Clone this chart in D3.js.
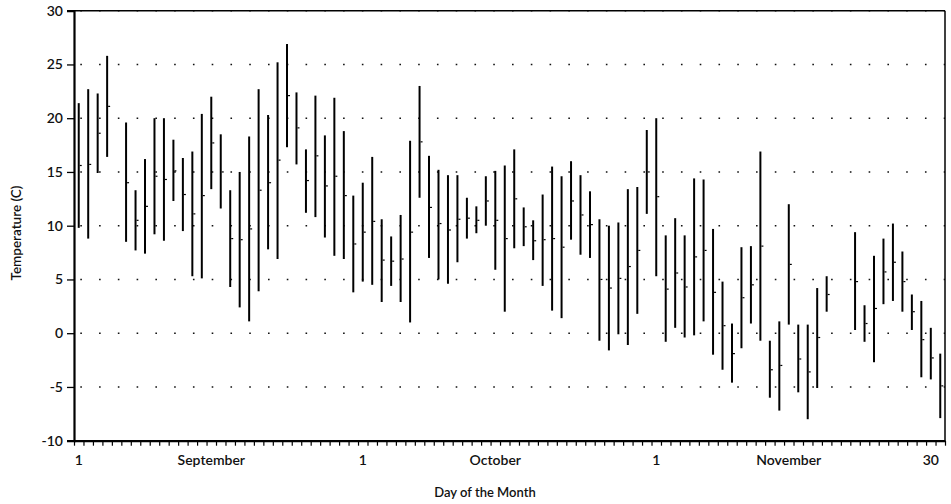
<!DOCTYPE html>
<html>
<head>
<meta charset="utf-8">
<script src="https://cdn.jsdelivr.net/npm/d3@7"></script>
<style>
  body { margin: 0; background: #fff; }
  text { font-family: Lato, "Open Sans", sans-serif; fill: #111; }
</style>
</head>
<body>
<svg width="951" height="504"></svg>
<script>
// one entry per day, Sep 1 .. Dec 1 (null = no reading)
let highs = [21.4, 22.7, 22.3, 25.8, null, 19.6, 13.3, 16.2, 20.0, 20.0,
  18.0, 16.3, 16.9, 20.4, 22.0, 18.5, 13.3, 15.0, 18.3, 22.7,
  20.3, 25.2, 26.9, 22.4, 17.1, 22.1, 18.4, 21.9, 18.8, 12.8,
  14.0, 16.4, 10.6, 9.0, 11.0, 17.9, 23.0, 16.5, 15.2, 14.7,
  14.7, 12.6, 11.8, 14.6, 15.1, 15.6, 17.1, 11.7, 10.5, 12.9,
  15.5, 14.6, 16.0, 14.7, 13.2, 10.6, 10.0, 10.3, 13.4, 13.6, 18.9,
  20.0, 9.1, 10.7, 9.1, 14.4, 14.3, 9.7, 4.8, 0.9, 8.0,
  8.1, 16.9, -0.7, 1.1, 12.0, 0.8, 0.8, 4.2, 5.3, null,
  null, 9.4, 2.6, 7.2, 8.8, 10.2, 7.6, 3.6, 3.0, 0.5,
  -1.9];
let lows = [9.8, 8.8, 14.9, 16.4, null, 8.5, 7.7, 7.4, 9.2, 8.6,
  12.3, 9.5, 5.3, 5.1, 13.4, 11.6, 4.3, 2.4, 1.1, 3.9,
  7.8, 6.9, 17.3, 15.7, 11.2, 10.8, 8.9, 7.2, 6.9, 3.8,
  4.8, 4.5, 2.9, 4.4, 2.9, 1.0, 12.6, 7.0, 5.0, 4.6,
  6.6, 8.8, 9.3, 10.0, 5.9, 2.0, 7.9, 8.1, 6.8, 4.4,
  2.1, 1.4, 8.7, 7.3, 7.0, -0.7, -1.6, -0.1, -1.1, 1.8, 11.1,
  5.3, -0.8, 0.5, -0.4, -0.2, 1.1, -2.0, -3.4, -4.6, -1.4,
  0.9, -0.7, -6.0, -7.2, 0.8, -5.5, -8.0, -5.1, 2.0, null,
  null, 0.3, -0.8, -2.7, 2.7, 3.0, 2.0, 0.3, -4.1, -4.3,
  -7.9];
let means = [15.6, 15.7, 18.6, 21.1, null, 14.0, 10.5, 11.8, 14.6, 14.3,
  15.1, 12.9, 11.1, 12.8, 17.7, 15.0, 8.8, 8.7, 9.7, 13.3,
  14.0, 16.1, 22.1, 19.1, 14.2, 16.5, 13.7, 14.6, 12.8, 8.3,
  9.4, 10.4, 6.8, 6.7, 6.9, 9.4, 17.8, 11.7, 10.2, 9.6,
  10.6, 10.7, 10.5, 12.3, 10.5, 8.8, 12.5, 9.9, 8.6, 8.7,
  8.8, 8.0, 12.3, 11.0, 10.1, 5.0, 4.2, 5.1, 6.2, 7.7, 15.0,
  12.7, 4.1, 5.6, 4.3, 7.1, 7.7, 3.8, 0.7, -1.9, 3.3,
  4.5, 8.1, -3.4, -3.0, 6.4, -2.4, -3.6, -0.4, 3.6, null,
  null, 4.8, 0.9, 2.3, 5.7, 6.6, 4.8, 2.0, -0.6, -2.3,
  -4.9];

// x labels: day index -> text
let dayLabels = [[0, "1"], [14, "September"], [30, "1"], [44, "October"],
  [61, "1"], [75, "November"], [90, "30"]];
let yTicks = [-10, -5, 0, 5, 10, 15, 20, 25, 30];
let gridLevels = [-5, 0, 5, 10, 15, 20, 25, 30];

let svg = d3.select("svg");
let plotLeft = 74, plotRight = 945, plotTop = 10.7, plotBottom = 440.7;

let x = d3.scaleLinear().domain([-0.5, highs.length - 0.5]).range([plotLeft, plotRight]);
let y = d3.scaleLinear().domain([-10, 30]).range([plotBottom, plotTop]);

// dotted grid
svg.append("g").selectAll("line")
  .data(gridLevels)
  .enter()
  .append("line")
  .attr("x1", plotLeft + 6.3)
  .attr("x2", plotRight)
  .attr("y1", d => y(d))
  .attr("y2", d => y(d))
  .attr("stroke", "#111")
  .attr("stroke-width", 1.6)
  .attr("stroke-dasharray", "1.6,17.17");

let days = d3.range(highs.length).filter(i => highs[i] != null);

// daily range bars
svg.append("g").selectAll("line")
  .data(days)
  .enter()
  .append("line")
  .attr("x1", i => x(i))
  .attr("x2", i => x(i))
  .attr("y1", i => y(highs[i]))
  .attr("y2", i => y(lows[i]))
  .attr("stroke", "#000")
  .attr("stroke-width", 2);

// mean tick on right side
svg.append("g").selectAll("line")
  .data(days)
  .enter()
  .append("line")
  .attr("x1", i => x(i) + 1)
  .attr("x2", i => x(i) + 3)
  .attr("y1", i => y(means[i]))
  .attr("y2", i => y(means[i]))
  .attr("stroke", "#000")
  .attr("stroke-width", 1.2);

// frame top/right
svg.append("line").attr("x1", plotLeft).attr("x2", plotRight).attr("y1", plotTop).attr("y2", plotTop)
  .attr("stroke", "#000").attr("stroke-width", 1.5);
svg.append("line").attr("x1", plotRight).attr("x2", plotRight).attr("y1", plotTop).attr("y2", plotBottom)
  .attr("stroke", "#000").attr("stroke-width", 1.5);

// y axis
let yAxis = svg.append("g")
  .attr("transform", "translate(" + plotLeft + ",0)")
  .call(d3.axisLeft(y).tickValues(yTicks).tickSize(7).tickPadding(4).tickFormat(d => String(d)));
yAxis.select(".domain").attr("stroke-width", 2.2);
yAxis.selectAll(".tick line").attr("stroke-width", 1.3);
yAxis.selectAll("text").style("font-size", "14px").style("font-weight", 600);

// x axis day ticks
let xAxis = svg.append("g")
  .attr("transform", "translate(0," + plotBottom + ")")
  .call(d3.axisBottom(x).tickValues(d3.range(-0.5, highs.length, 1)).tickSize(5).tickSizeOuter(0).tickFormat(""));
xAxis.select(".domain").attr("stroke-width", 2.2);
xAxis.selectAll(".tick line").attr("stroke-width", 1.2);

svg.append("g").selectAll("text")
  .data(dayLabels)
  .enter()
  .append("text")
  .attr("x", d => x(d[0]))
  .attr("y", 465)
  .attr("text-anchor", "middle")
  .style("font-size", "14px")
  .style("font-weight", 600)
  .text(d => d[1]);

svg.append("text")
  .attr("x", 485)
  .attr("y", 497)
  .attr("text-anchor", "middle")
  .style("font-size", "13px")
  .style("font-weight", 600)
  .text("Day of the Month");

svg.append("text")
  .attr("transform", "translate(21,233) rotate(-90)")
  .attr("text-anchor", "middle")
  .style("font-size", "13.5px")
  .style("font-weight", 600)
  .text("Temperature (C)");
</script>
</body>
</html>
